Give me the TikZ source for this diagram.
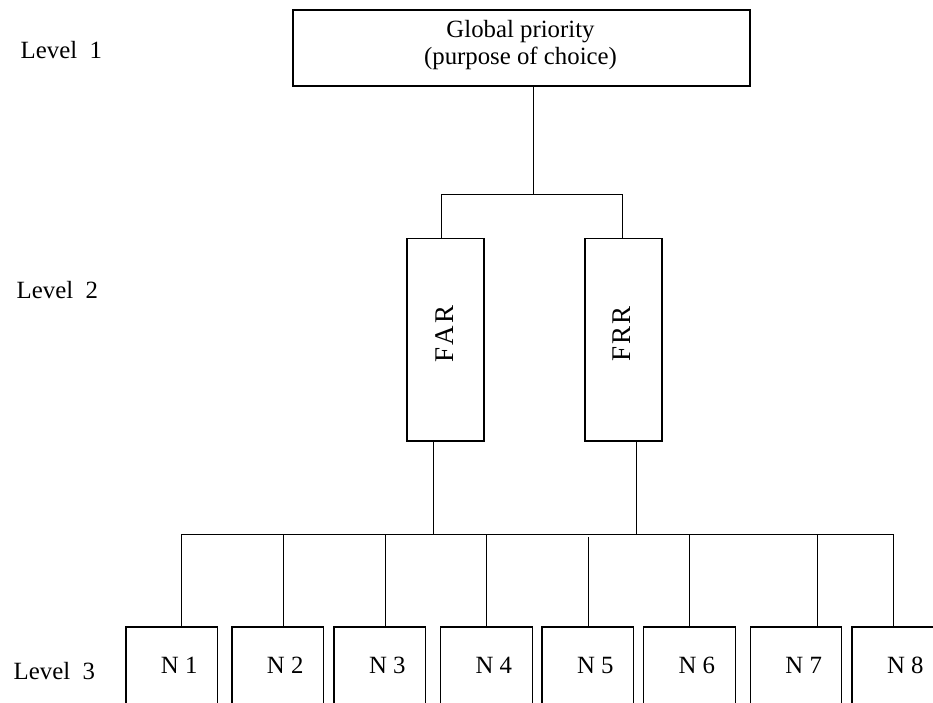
\documentclass[tikz,border=0pt]{standalone}
\usepackage{fontspec}
\setmainfont{Liberation Serif}
\usetikzlibrary{calc}
\begin{document}
\begin{tikzpicture}[x=1pt,y=-1pt,
  txt/.style={font=\fontsize{24.8}{27}\selectfont, inner sep=0pt},
  boxstyle/.style={draw, line width=1.1pt, inner sep=0pt},
  nbox/.style={boxstyle, minimum width=91.5pt, minimum height=113pt},
  vbox/.style={boxstyle, minimum width=77pt, minimum height=202.5pt},
  vtxt/.style={font=\fontsize{27}{30}\selectfont, inner sep=0pt, rotate=90},
  conn/.style={line width=1pt}]
\clip (0,0) rectangle (933,702);
% Level labels
\node[txt, anchor=base west] (l1) at (20.5,58) {Level\ \ 1};
\node[txt, anchor=base west] (l2) at (16.5,298) {Level\ \ 2};
\node[txt, anchor=base west] (l3) at (13.5,679) {Level\ \ 3};
% Level 1 box
\node[boxstyle, minimum width=457pt, minimum height=76pt] (gp) at (521.5,48) {};
\node[txt, align=center] (gpt) at ($(gp.center)+(-1,-2.5)$) {Global priority\\(purpose of choice)};
% Level 2 boxes
\node[vbox] (far) at (445.5,339.75) {};
\node[vtxt] (fart) at ($(far.center)+(-1,-6)$) {F\kern2pt A\kern2pt R};
\node[vbox] (frr) at (623.5,339.75) {};
\node[vtxt] (frrt) at ($(frr.center)+(-2,-6)$) {F\kern2pt R\kern2pt R};
% Level 3 boxes
\foreach \i/\cx in {1/171.75,2/277.75,3/379.75,4/486.35,5/587.75,6/689.35,7/796.15,8/897.75}{
  \node[nbox] (n\i) at (\cx,683.5) {};
  \node[txt, anchor=base] (n\i t) at ($(\cx,673)+(7.5,0)$) {N \i};
}
% connectors level 1 -> 2
\coordinate (j1) at (533,194);
\coordinate (farin) at (441,194);
\coordinate (frrin) at (622,194);
\draw[conn] (j1 |- gp.south) -- (j1);
\draw[conn] (farin |- far.north) -- (farin) -- (frrin) -- (frrin |- frr.north);
% connectors level 2 -> 3
\coordinate (farout) at (433,534);
\coordinate (frrout) at (636,534);
\coordinate (barl) at (181.5,534);
\coordinate (barr) at (893,534);
\draw[conn] (farout |- far.south) -- (farout);
\draw[conn] (frrout |- frr.south) -- (frrout);
\draw[conn] (barl) -- (barr);
\foreach \i/\dx in {1/181.5,2/283,3/385,4/486,6/689,7/817,8/893}{
  \draw[conn] (\dx,534) -- (\dx,534 |- n\i.north);
}
\draw[conn] (588,537) -- (588,537 |- n5.north);
\end{tikzpicture}
\end{document}
